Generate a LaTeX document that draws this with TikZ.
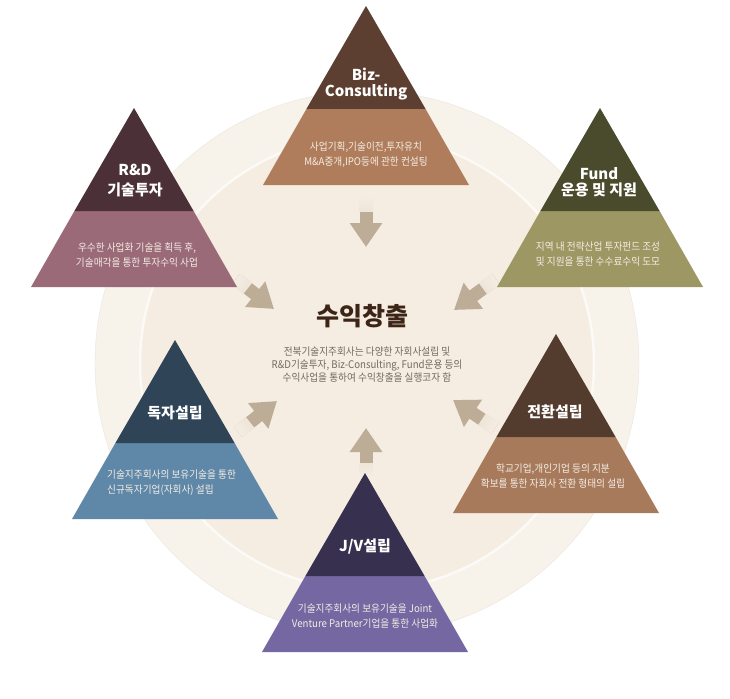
\documentclass[tikz,border=0pt]{standalone}
\usepackage{fontspec}
\setmainfont{Noto Sans CJK KR}
\newfontfamily\narrowfont[FakeStretch=0.92]{Noto Sans CJK KR}
\usetikzlibrary{arrows.meta,calc}

\definecolor{bizdark}{HTML}{5C3F30}
\definecolor{bizlight}{HTML}{B07D5C}
\definecolor{rddark}{HTML}{4B3038}
\definecolor{rdlight}{HTML}{9A6A78}
\definecolor{funddark}{HTML}{4A4A2C}
\definecolor{fundlight}{HTML}{9D9764}
\definecolor{ownddark}{HTML}{2F4457}
\definecolor{ownlight}{HTML}{5F87A8}
\definecolor{convdark}{HTML}{533B2D}
\definecolor{convlight}{HTML}{A87A5C}
\definecolor{jvdark}{HTML}{37304F}
\definecolor{jvlight}{HTML}{7567A2}
\definecolor{flowcol}{HTML}{BDAD97}
\definecolor{hubcol}{HTML}{3C2417}
\definecolor{hubtext}{HTML}{736B63}
\definecolor{desccol}{HTML}{F3EDE4}
\definecolor{outerdisc}{HTML}{F7F2EA}
\definecolor{innerdisc}{HTML}{F5EDE2}

\begin{document}
\begin{tikzpicture}[x=1pt,y=-1pt]

\tikzset{headtext/.style={text=white,font=\bfseries\fontsize{15}{16}\selectfont,align=center,inner sep=0pt},
  desctext/.style={text=desccol,font=\narrowfont\fontsize{10.5}{15}\selectfont,align=center,inner sep=0pt},
  flow/.style={line width=13pt,draw=flowcol,-{Triangle[width=31pt,length=24pt]}}}

  \useasboundingbox (0,0) rectangle (730,698);
  \fill[white] (0,0) rectangle (730,698);

  \fill[outerdisc,draw=outerdisc!92!black!60!outerdisc] (367,363) circle (272);
  \fill[innerdisc,draw=white!70!innerdisc,line width=2.5pt] (367,363) circle (227);

  \coordinate (biztail) at (366,196);  \coordinate (biztip) at (366,247);
  \coordinate (rdtail) at (236,279);   \coordinate (rdtip) at (274,309);
  \coordinate (fundtail) at (496,279); \coordinate (fundtip) at (454,310);
  \coordinate (owntail) at (238,432);  \coordinate (owntip) at (277,401);
  \coordinate (convtail) at (495,428); \coordinate (convtip) at (453,400);
  \coordinate (jvtail) at (366,478);   \coordinate (jvtip) at (366,428);

  \draw[flow] (biztail) -- (biztip);
  \draw[flow] (rdtail) -- (rdtip);
  \draw[flow] (fundtail) -- (fundtip);
  \draw[flow] (owntail) -- (owntip);
  \draw[flow] (convtail) -- (convtip);
  \draw[flow] (jvtail) -- (jvtip);

  % soft tails
  \foreach \a in {biz,rd,fund,own,conv,jv}
    \foreach \i [evaluate=\i as \p using int(3+8*\i)] in {0,...,11}
      \draw[line width=13.4pt,draw=flowcol!\p!innerdisc]
        ($(\a tail)!\i*0.025!(\a tip)$) -- ($(\a tail)!\i*0.025+0.035!(\a tip)$);

  \begin{scope}[shift={(366,6)}]
    \fill[bizlight] (-103,179) -- (-59.6,103) -- (59.6,103) -- (103,179) -- cycle;
    \fill[bizdark] (0,0) -- (-59.6,103) -- (59.6,103) -- cycle;
  \end{scope}
  \begin{scope}[shift={(134,108)}]
    \fill[rdlight] (-103,179) -- (-59.6,103) -- (59.6,103) -- (103,179) -- cycle;
    \fill[rddark] (0,0) -- (-59.6,103) -- (59.6,103) -- cycle;
  \end{scope}
  \begin{scope}[shift={(600,108)}]
    \fill[fundlight] (-103,179) -- (-59.6,103) -- (59.6,103) -- (103,179) -- cycle;
    \fill[funddark] (0,0) -- (-59.6,103) -- (59.6,103) -- cycle;
  \end{scope}
  \begin{scope}[shift={(175,340)}]
    \fill[ownlight] (-103,179) -- (-59.6,103) -- (59.6,103) -- (103,179) -- cycle;
    \fill[ownddark] (0,0) -- (-59.6,103) -- (59.6,103) -- cycle;
  \end{scope}
  \begin{scope}[shift={(556,334)}]
    \fill[convlight] (-103,179) -- (-59.6,103) -- (59.6,103) -- (103,179) -- cycle;
    \fill[convdark] (0,0) -- (-59.6,103) -- (59.6,103) -- cycle;
  \end{scope}
  \begin{scope}[shift={(365,473)}]
    \fill[jvlight] (-103,179) -- (-59.6,103) -- (59.6,103) -- (103,179) -- cycle;
    \fill[jvdark] (0,0) -- (-59.6,103) -- (59.6,103) -- cycle;
  \end{scope}

  \node[headtext] (biz) at (366,84) {Biz-\\Consulting};
  \node[desctext] (bizdesc) at (366,155) {사업기획,기술이전,투자유치\\M\&A중개,IPO등에 관한 컨설팅};

  \node[headtext,font=\bfseries\fontsize{15}{20}\selectfont] (rd) at (135,181) {R\&D\\기술투자};
  \node[desctext] (rddesc) at (137,255) {우수한 사업화 기술을 획득 후,\\기술매각을 통한 투자수익 사업};

  \node[headtext] (fund) at (599,182) {Fund\\운용 및 지원};
  \node[desctext] (funddesc) at (598,254) {지역 내 전략산업 투자펀드 조성\\및 지원을 통한 수수료수익 도모};

  \node[headtext] (own) at (175,413) {독자설립};
  \node[desctext,align=left,anchor=west] (owndesc) at (107,483) {기술지주회사의 보유기술을 통한\\신규독자기업(자회사) 설립};

  \node[headtext] (conv) at (555,412) {전환설립};
  \node[desctext] (convdesc) at (553,476) {학교기업,개인기업 등의 지분\\확보를 통한 자회사 전환 형태의 설립};

  \node[headtext] (jv) at (365,547) {J/V설립};
  \node[desctext] (jvdesc) at (365,616) {기술지주회사의 보유기술을 Joint\\Venture Partner기업을 통한 사업화};

  \node[text=hubcol,font=\bfseries\fontsize{25}{28}\selectfont,inner sep=0pt] (hub) at (362,316) {수익창출};
  \node[text=hubtext,font=\narrowfont\fontsize{10.5}{13}\selectfont,align=center,inner sep=0pt] (hubdesc) at (367,365) {전북기술지주회사는 다양한 자회사설립 및\\R\&D기술투자, Biz-Consulting, Fund운용 등의\\수익사업을 통하여 수익창출을 실행코자 함};

\end{tikzpicture}
\end{document}
